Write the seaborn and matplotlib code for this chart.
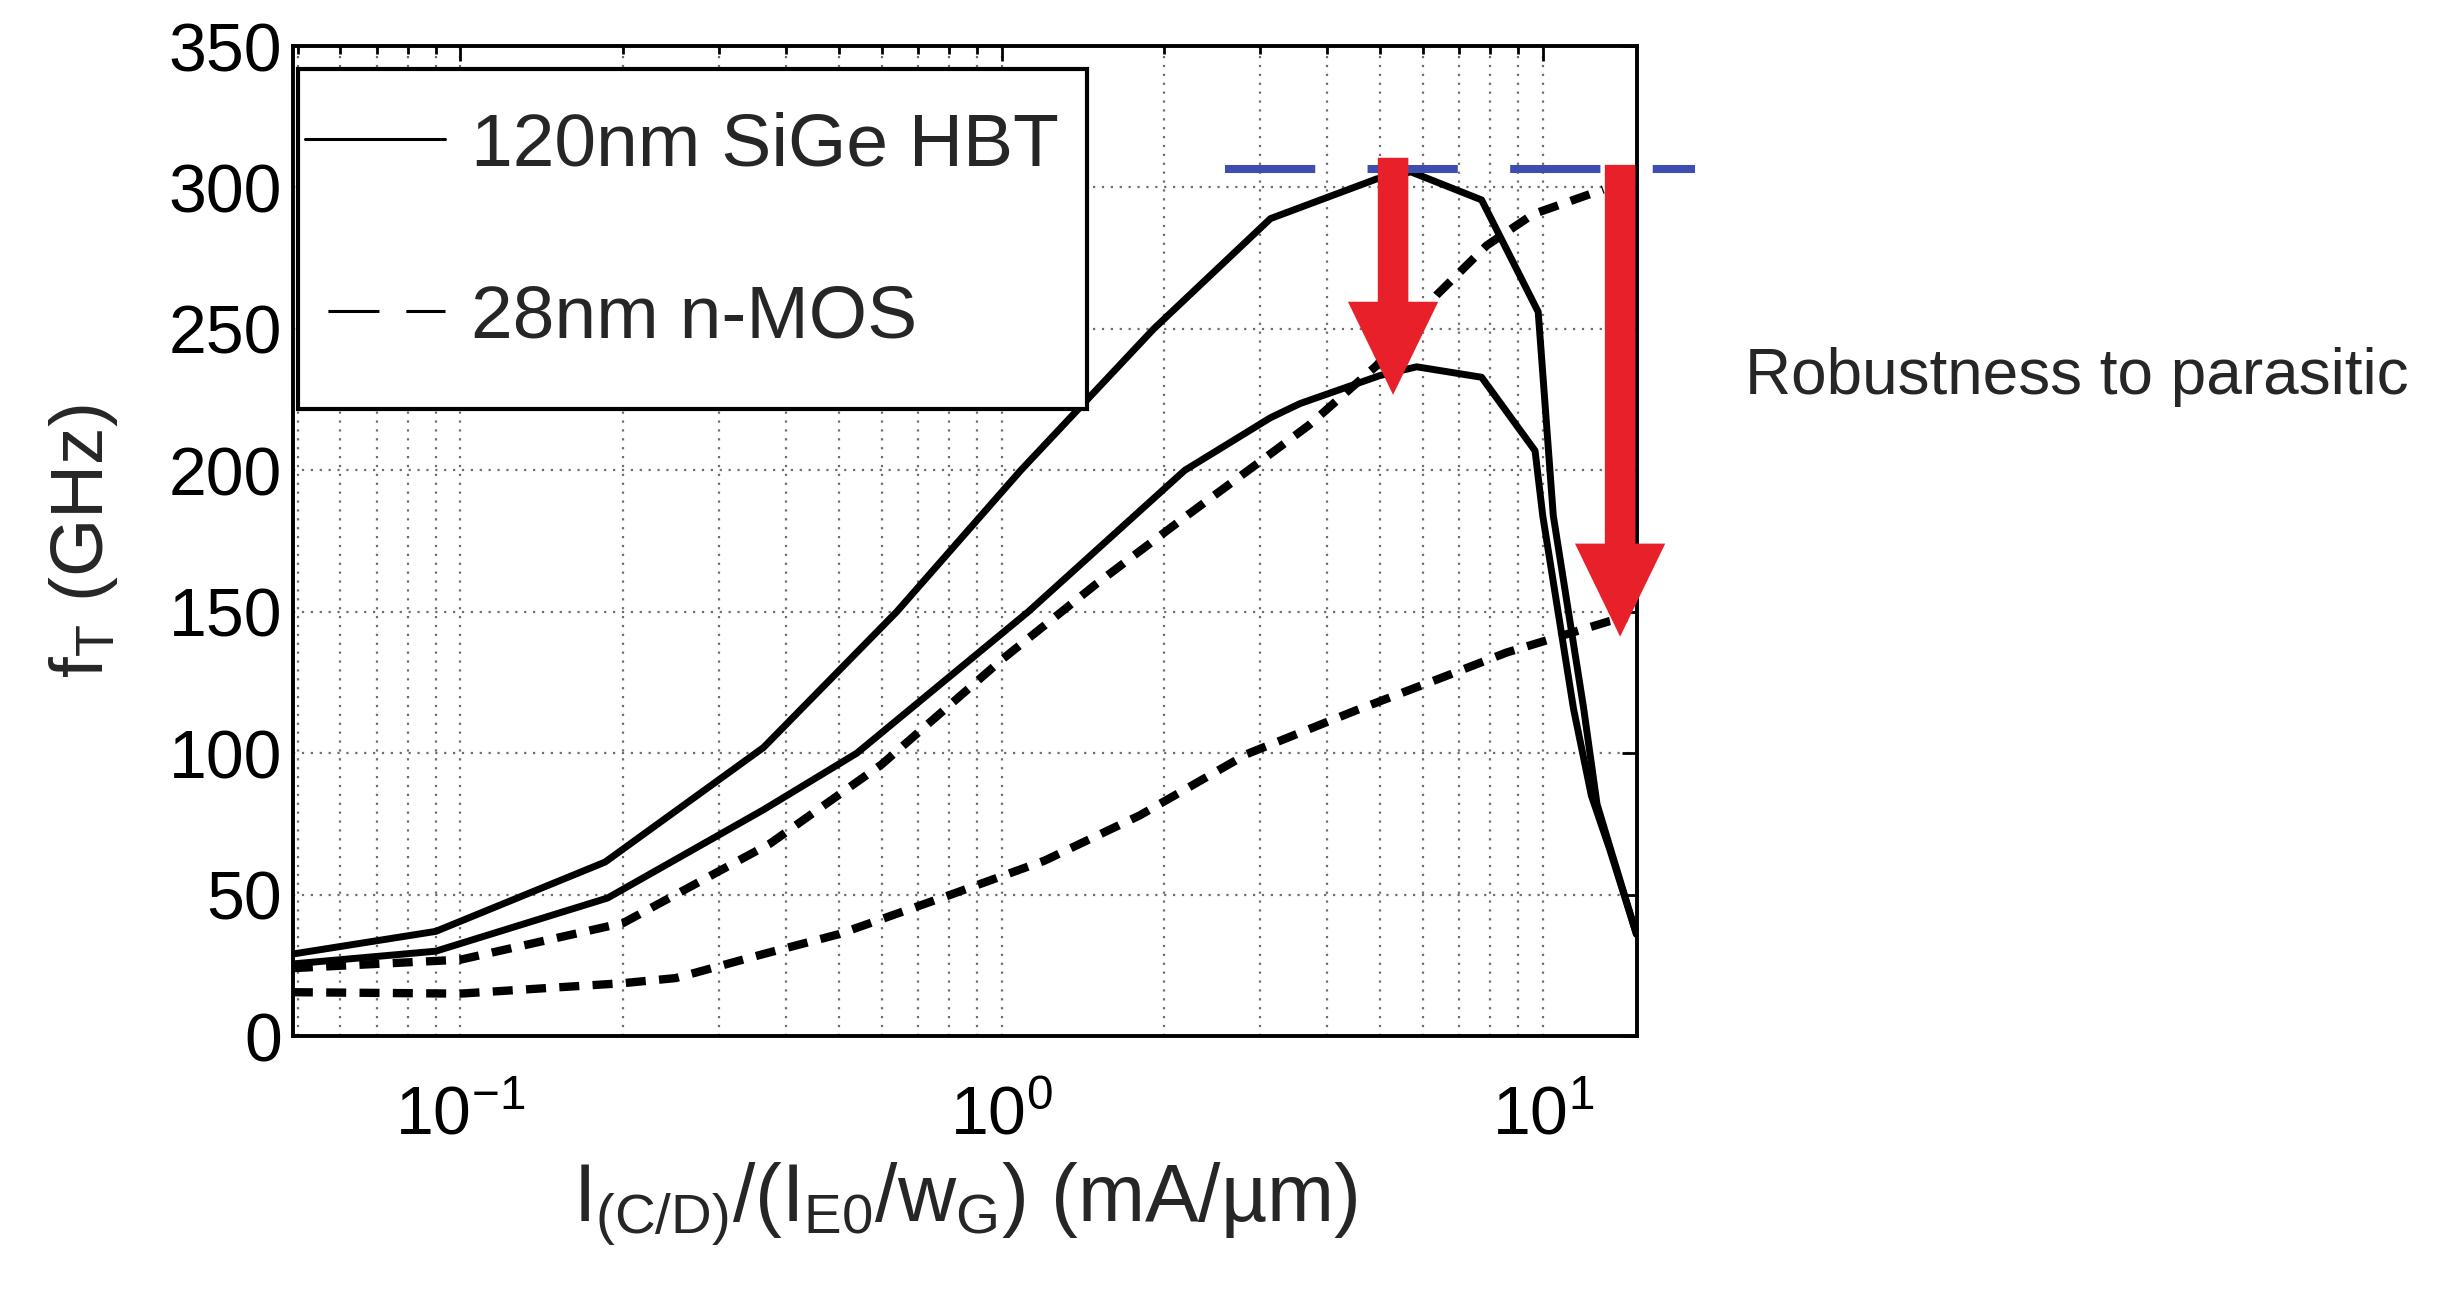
import numpy as np
import pandas as pd
import matplotlib
matplotlib.use("Agg")
import matplotlib.pyplot as plt
from matplotlib.lines import Line2D
from matplotlib.patches import Rectangle, ArrowStyle
import seaborn as sns

# ---------------- data ----------------
hbt_x = [0.049, 0.090, 0.185, 0.363, 0.64, 1.085, 1.91, 3.14, 4.93, 5.71, 7.71, 9.81, 10.46, 11.9, 12.6, 13.4, 14.9]
hbt_y = [29, 37, 61.5, 102, 150, 200, 250, 289, 303, 305.5, 295.6, 256, 184, 116, 82, 65, 36]

hbt_par_x = [0.049, 0.090, 0.187, 0.363, 0.54, 1.12, 2.18, 3.14, 3.56, 5.0, 5.85, 7.71, 9.68, 10.0, 11.4, 12.3, 13.3, 14.9]
hbt_par_y = [25.5, 30, 48.8, 80, 100, 150, 200, 218.6, 223.6, 233.5, 236.6, 232.9, 206.9, 184, 115.7, 85, 66, 36]

mos_x = [0.049, 0.1, 0.2, 0.373, 0.6, 1.0, 1.5, 2.2, 3.0, 3.7, 4.93, 6.37, 7.88, 9.61, 12.94]
mos_y = [24, 27, 40, 68, 96, 133, 160, 184, 203, 216, 237, 262, 279.5, 290.6, 299.3]

mos_par_x = [0.049, 0.1, 0.2, 0.25, 0.363, 0.5, 0.806, 1.2, 1.8, 2.84, 4.5, 6.55, 8.58, 13.3, 14.3]
mos_par_y = [15.5, 15, 18.7, 20.5, 29, 36, 50, 62, 78, 99.7, 115, 126.9, 135.6, 146.7, 148]

peak_line_x = [2.59, 19.1]
peak_line_y = [306.5, 306.5]

arrow_x = [5.29, 13.9]
arrow_top = [310.5, 308.0]
arrow_tip = [226.7, 141.2]

legend_labels = ["120nm SiGe HBT", "28nm n-MOS"]
y_ticks = [0, 50, 100, 150, 200, 250, 300, 350]
annotation_text = "Robustness to parasitic"

# ---------------- style ----------------
sns.set_style("white")
plt.rcParams["font.family"] = ["Liberation Sans", "DejaVu Sans"]
plt.rcParams["mathtext.fontset"] = "custom"
plt.rcParams["mathtext.rm"] = "Liberation Sans"
plt.rcParams["mathtext.it"] = "Liberation Sans"
plt.rcParams["mathtext.sf"] = "Liberation Sans"
plt.rcParams["mathtext.bf"] = "Liberation Sans:bold"
plt.rcParams["axes.unicode_minus"] = False

fig = plt.figure(figsize=(24.44, 12.97), dpi=100)
ax = fig.add_axes([0.1199, 0.2012, 0.6697 - 0.1199, 0.9645 - 0.2012])

frames = []
for name, xs, ys in [("hbt", hbt_x, hbt_y), ("hbt_par", hbt_par_x, hbt_par_y),
                     ("mos", mos_x, mos_y), ("mos_par", mos_par_x, mos_par_y)]:
    frames.append(pd.DataFrame({"x": xs, "y": ys, "curve": name}))
df = pd.concat(frames, ignore_index=True)

sns.lineplot(data=df, x="x", y="y", hue="curve", style="curve", size="curve",
             palette={"hbt": "black", "hbt_par": "black", "mos": "black", "mos_par": "black"},
             dashes={"hbt": "", "hbt_par": "", "mos": (2.4, 1.6), "mos_par": (2.4, 1.6)},
             sizes={"hbt": 5.0, "hbt_par": 5.0, "mos": 6.0, "mos_par": 6.0},
             estimator=None, sort=False, legend=False, ax=ax, zorder=2)

ax.set_xscale("log")
ax.set_xlim(0.04904, 14.92)
ax.set_ylim(0, 350)
ax.set_yticks(y_ticks)

# grid
ax.set_axisbelow(True)
grid_kw = dict(color="#6e6e6e", linestyle=(0, (1, 3)), linewidth=1.6)
ax.grid(True, which="major", axis="both", **grid_kw)
ax.grid(True, which="minor", axis="x", **grid_kw)

# ticks
ax.tick_params(axis="both", which="both", direction="in", top=True, right=True,
               colors="black", labelsize=49)
ax.tick_params(axis="both", which="major", length=11, width=2)
ax.tick_params(axis="x", which="minor", length=6, width=2)
ax.tick_params(axis="x", which="major", pad=35)
ax.tick_params(axis="y", which="major", pad=8)
for s in ax.spines.values():
    s.set_linewidth(2.8)
    s.set_color("black")

# labels
ax.set_xlabel(r"$I_{(C/D)}/(I_{E0}/w_G)$ (mA/µm)", fontsize=58)
ax.set_ylabel(r"$\mathregular{f_T}$ (GHz)", fontsize=54)
ax.xaxis.set_label_coords(0.5, -0.126)
ax.yaxis.set_label_coords(-0.129, 0.5)

# reference line at peak fT
ax.plot(peak_line_x, peak_line_y, color="#3d4db0", lw=5.8,
        linestyle=(0, (11.2, 6.5)), clip_on=False, zorder=3, solid_capstyle="butt")

# red arrows
for xa, yt, yb in zip(arrow_x, arrow_top, arrow_tip):
    ax.annotate("", xy=(xa, yb), xytext=(xa, yt),
                arrowprops=dict(arrowstyle=ArrowStyle.Simple(head_length=6.7, head_width=6.5, tail_width=2.2),
                                mutation_scale=10, color="#e8202a", shrinkA=0, shrinkB=0, lw=0),
                annotation_clip=False, zorder=4)

# legend box
ax.add_patch(Rectangle((0.0037, 0.633), 0.587, 0.344, transform=ax.transAxes,
                       facecolor="white", edgecolor="black", lw=3, zorder=5, clip_on=False))
handles = [Line2D([], [], color="black", lw=2.2, linestyle="-"),
           Line2D([], [], color="black", lw=2.2, linestyle=(18.0, (16.7, 8.8)))]
leg = ax.legend(handles, legend_labels, loc="center left", bbox_to_anchor=(0.0087, 0.8124),
                frameon=False, fontsize=54, borderpad=0, borderaxespad=0,
                handlelength=1.87, handletextpad=0.35, labelspacing=1.38)
leg.set_zorder(6)

fig.text(0.714, 0.696, annotation_text, fontsize=46, ha="left", va="baseline")

fig.savefig("out.png", dpi=100, facecolor="white")
